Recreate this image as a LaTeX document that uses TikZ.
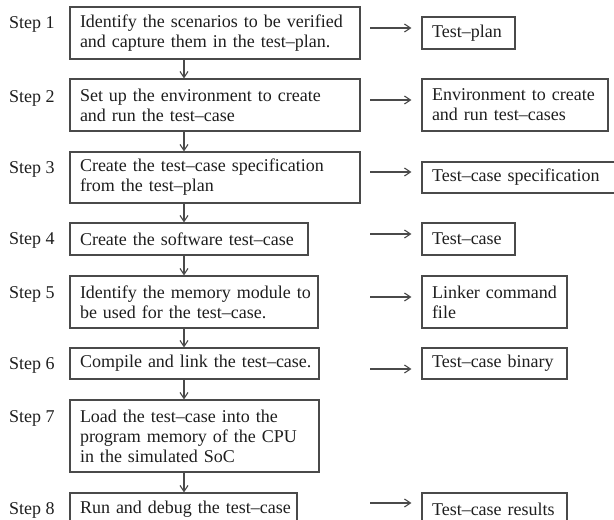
\documentclass[tikz,border=0pt]{standalone}
\usepackage{fontspec}
\setmainfont{Liberation Serif}
\usetikzlibrary{arrows.meta}
\definecolor{linec}{HTML}{4A4A4A}
\definecolor{textc}{HTML}{1E1E1E}
\tikzset{
  box/.style={draw=linec, line width=1.2pt, inner xsep=10pt, inner ysep=0pt,
    align=left, text=textc, font=\fontsize{18}{20}\selectfont},
  steplabel/.style={anchor=base west, inner sep=0pt, text=textc, font=\fontsize{18}{20}\selectfont},
  arr/.style={draw=linec, line width=1.1pt, -{Straight Barb[length=6pt,width=8pt]}}
}
\newcommand{\bx}[7]{% name, cx, cy, w, h, text width, text
  \node[box, minimum width=#4pt, minimum height=#5pt, text width=#6pt] (#1) at (#2,#3) {#7};}
\begin{document}
\begin{tikzpicture}[x=1pt,y=-1pt]
\useasboundingbox (0,0) rectangle (614,520);
% left boxes
\bx{b1}{215}{33}{290}{52}{270}{\mbox{Identify the scenarios to be verified}\\\mbox{and capture them in the test–plan.}}
\bx{b2}{215}{105}{290}{52}{270}{\mbox{Set up the environment to create}\\\mbox{and run the test–case}}
\bx{b3}{215}{177.5}{290}{51}{270}{\mbox{Create the test–case specification}\\\mbox{from the test–plan}}
\bx{b4}{189}{239}{238}{32}{218}{\mbox{Create the software test–case}}
\bx{b5}{194}{302}{248}{52}{228}{\mbox{Identify the memory module to}\\\mbox{be used for the test–case.}}
\bx{b6}{194.5}{363.5}{249}{31}{229}{\mbox{Compile and link the test–case.}}
\bx{b7}{194.5}{436}{249}{72}{229}{\mbox{Load the test–case into the}\\\mbox{program memory of the CPU}\\\mbox{in the simulated SoC}}
\bx{b8}{183.5}{509}{227}{32}{207}{\mbox{Run and debug the test–case}}
% right boxes
\bx{r1}{468.5}{33}{93}{32}{73}{\mbox{Test–plan}}
\bx{r2}{515}{105}{186}{52}{166}{\mbox{Environment to create}\\\mbox{and run test–cases}}
\bx{r3}{521}{177.5}{198}{31}{178}{\mbox{Test–case specification}}
\bx{r4}{468.5}{239}{93}{32}{73}{\mbox{Test–case}}
\bx{r5}{494.5}{302}{145}{52}{125}{\mbox{Linker command}\\\mbox{file}}
\bx{r6}{494.5}{363.5}{145}{31}{125}{\mbox{Test–case binary}}
\bx{r7}{494.5}{509}{145}{32}{125}{\mbox{Test–case results}}
% step labels
\node[steplabel] (s1) at (9,28) {Step 1};
\node[steplabel] (s2) at (9,102) {Step 2};
\node[steplabel] (s3) at (9,173) {Step 3};
\node[steplabel] (s4) at (9,244) {Step 4};
\node[steplabel] (s5) at (9,298) {Step 5};
\node[steplabel] (s6) at (9,369) {Step 6};
\node[steplabel] (s7) at (9,422) {Step 7};
\node[steplabel] (s8) at (9,514) {Step 8};
% vertical arrows
\coordinate (vx) at (184,0);
\foreach \a/\b in {b1/b2,b2/b3,b3/b4,b4/b5,b5/b6,b6/b7,b7/b8}
  \draw[arr] (\a.south -| vx) -- (\b.north -| vx);
% horizontal arrows
\coordinate (h1) at (370,28);
\coordinate (h2) at (370,100);
\coordinate (h3) at (370,172);
\coordinate (h4) at (370,234);
\coordinate (h5) at (370,297);
\coordinate (h6) at (370,369);
\coordinate (h7) at (370,503);
\foreach \h/\r in {h1/r1,h2/r2,h3/r3,h4/r4,h5/r5,h6/r6,h7/r7}
  \draw[arr, shorten >=10pt] (\h) -- (\r.west |- \h);
\end{tikzpicture}
\end{document}
